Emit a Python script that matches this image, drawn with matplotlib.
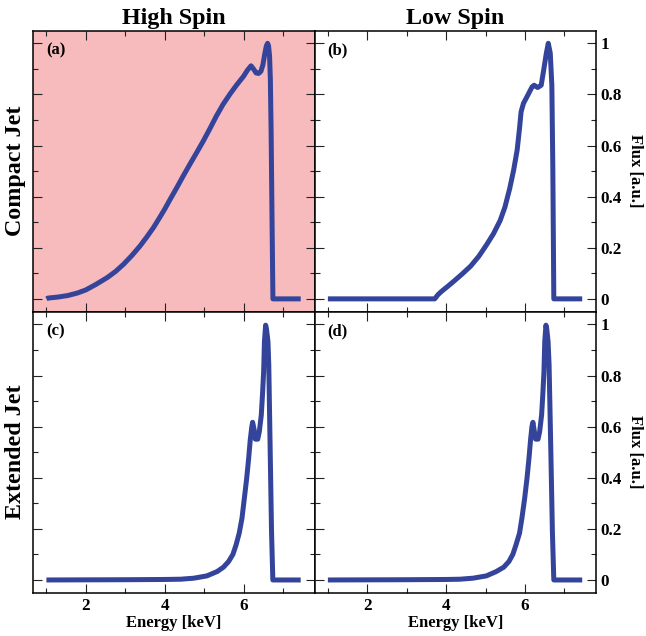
import matplotlib
matplotlib.use("Agg")
import matplotlib.pyplot as plt
from matplotlib.ticker import MultipleLocator

# panel (a): high spin, compact jet
energy_a = [1.0, 1.04, 1.29, 1.54, 1.79, 2.0, 2.25, 2.55, 2.76, 2.96, 3.17,
            3.38, 3.55, 3.72, 3.86, 4.0, 4.14, 4.31, 4.47, 4.64, 4.81, 4.98,
            5.15, 5.31, 5.48, 5.65, 5.82, 6.0, 6.1, 6.19, 6.25, 6.32, 6.38,
            6.44, 6.49, 6.54, 6.58, 6.61, 6.635, 6.66, 6.68, 6.70, 6.72,
            6.745, 7.45]
flux_a = [0.0, 0.003, 0.007, 0.013, 0.023, 0.035, 0.056, 0.084, 0.108, 0.136,
          0.17, 0.208, 0.243, 0.28, 0.315, 0.351, 0.39, 0.436, 0.481, 0.527,
          0.572, 0.618, 0.667, 0.715, 0.761, 0.80, 0.836, 0.871, 0.895, 0.912,
          0.900, 0.884, 0.882, 0.89, 0.915, 0.96, 0.99, 1.0, 0.99, 0.95,
          0.86, 0.65, 0.35, 0.0, 0.0]

# panel (b): low spin, compact jet
energy_b = [1.0, 3.71, 3.79, 3.88, 4.04, 4.21, 4.41, 4.62, 4.83, 5.03, 5.2,
            5.37, 5.49, 5.61, 5.71, 5.80, 5.86, 5.90, 5.96, 6.07, 6.18, 6.23,
            6.32, 6.41, 6.48, 6.54, 6.59, 6.64, 6.68, 6.705, 6.73, 7.45]
flux_b = [0.0, 0.0, 0.016, 0.029, 0.049, 0.071, 0.098, 0.128, 0.167, 0.213,
          0.255, 0.307, 0.359, 0.431, 0.503, 0.582, 0.667, 0.732, 0.765,
          0.797, 0.83, 0.836, 0.827, 0.836, 0.902, 0.961, 1.0, 0.961, 0.836,
          0.51, 0.0, 0.0]

# panel (c): high spin, extended jet
energy_c = [1.0, 2.0, 3.0, 4.0, 4.40, 4.74, 5.07, 5.33, 5.49, 5.62, 5.73,
            5.81, 5.89, 5.96, 6.02, 6.08, 6.13, 6.17, 6.21, 6.23, 6.27, 6.30,
            6.36, 6.40, 6.45, 6.48, 6.51, 6.53, 6.56, 6.58, 6.62, 6.64, 6.675,
            6.71, 6.743, 7.45]
flux_c = [0.0, 0.0005, 0.001, 0.002, 0.003, 0.007, 0.016, 0.033, 0.05, 0.072,
          0.10, 0.137, 0.183, 0.241, 0.319, 0.398, 0.476, 0.548, 0.60, 0.617,
          0.587, 0.551, 0.551, 0.58, 0.645, 0.723, 0.815, 0.932, 0.997, 0.984,
          0.932, 0.841, 0.515, 0.189, 0.0, 0.0]

# panel (d): low spin, extended jet
energy_d = [1.0, 2.0, 3.0, 4.0, 4.35, 4.68, 5.02, 5.27, 5.46, 5.59, 5.69,
            5.77, 5.86, 5.92, 5.99, 6.05, 6.10, 6.14, 6.175, 6.20, 6.23, 6.27,
            6.33, 6.37, 6.42, 6.45, 6.48, 6.50, 6.53, 6.55, 6.585, 6.61, 6.653,
            6.694, 6.73, 7.45]
flux_d = [0.0, 0.0005, 0.001, 0.002, 0.003, 0.007, 0.016, 0.033, 0.05, 0.072,
          0.10, 0.137, 0.183, 0.241, 0.319, 0.398, 0.476, 0.548, 0.60, 0.617,
          0.587, 0.551, 0.551, 0.58, 0.645, 0.723, 0.815, 0.932, 0.997, 0.984,
          0.932, 0.841, 0.515, 0.189, 0.0, 0.0]

col_titles = ["High Spin", "Low Spin"]
row_titles = ["Compact Jet", "Extended Jet"]
panel_tags = ["(a)", "(b)", "(c)", "(d)"]
flux_ticks = [0, 0.2, 0.4, 0.6, 0.8, 1.0]
flux_tick_labels = ["0", "0.2", "0.4", "0.6", "0.8", "1"]

line_color = "#34449a"
pink = "#f7bbbd"

plt.rcParams["font.family"] = ["Liberation Serif", "DejaVu Serif"]
plt.rcParams["font.weight"] = "bold"

fig, axes = plt.subplots(2, 2, figsize=(6.46, 6.36), dpi=100)
fig.subplots_adjust(left=0.0511, right=0.9226, top=0.952, bottom=0.068,
                    wspace=0, hspace=0)

series = [(energy_a, flux_a), (energy_b, flux_b),
          (energy_c, flux_c), (energy_d, flux_d)]

for i, ax in enumerate(axes.flat):
    row, col = divmod(i, 2)
    x, y = series[i]
    ax.plot(x, y, color=line_color, lw=3.6, solid_capstyle="butt",
            solid_joinstyle="round")
    ax.set_xlim(0.66, 7.8)
    ax.set_ylim(-0.05, 1.05)
    ax.xaxis.set_major_locator(MultipleLocator(2))
    ax.xaxis.set_minor_locator(MultipleLocator(1))
    ax.yaxis.set_major_locator(MultipleLocator(0.2))
    ax.yaxis.set_minor_locator(MultipleLocator(0.1))
    ax.tick_params(which="both", direction="in", top=True, bottom=True,
                   left=True, right=True, width=0.8, color="#222222",
                   labelsize=12.3)
    ax.tick_params(which="major", length=6.5)
    ax.tick_params(which="minor", length=3.8)
    for sp in ax.spines.values():
        sp.set_linewidth(1.1)
    ax.tick_params(labelleft=False, labelright=(col == 1),
                   labelbottom=(row == 1), labeltop=False)
    if col == 1:
        ax.set_yticks(flux_ticks)
        ax.set_yticklabels(flux_tick_labels)
        ax.yaxis.set_label_position("right")
        ax.set_ylabel("Flux [a.u.]", fontsize=12, fontweight="bold",
                      rotation=270, labelpad=15)
    if row == 1:
        ax.set_xlabel("Energy [keV]", fontsize=12, fontweight="bold",
                      labelpad=1)
    if i == 0:
        ax.set_facecolor(pink)
    ax.text(0.046, 0.957, panel_tags[i], transform=ax.transAxes,
            fontsize=12, fontweight="bold", va="top", ha="left")
    if row == 0:
        ax.set_title(col_titles[col], fontsize=17.3, fontweight="bold", pad=5)

for r, name in enumerate(row_titles):
    yc = 1 - (171 if r == 0 else 452) / 636
    fig.text(16 / 646, yc, name, rotation=90, ha="center", va="center",
             fontsize=17.3, fontweight="bold")

plt.savefig("out.png", dpi=100)
